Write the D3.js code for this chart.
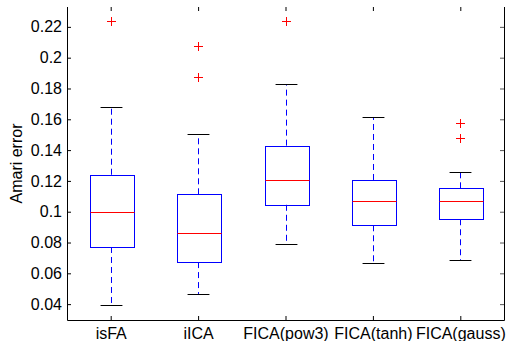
<!DOCTYPE html>
<html><head><meta charset="utf-8">
<script src="https://cdn.jsdelivr.net/npm/d3@7"></script>
<style>body{margin:0;background:#fff;} svg{display:block;font-family:"Liberation Sans",Arial,sans-serif;}</style>
</head><body>
<script>
const categories = ["isFA", "iICA", "FICA(pow3)", "FICA(tanh)", "FICA(gauss)"];
const lowerWhisker = [0.0392, 0.0466, 0.0790, 0.0669, 0.0686];
const q1 = [0.0771, 0.0673, 0.1045, 0.0912, 0.0951];
const median = [0.0998, 0.0860, 0.1206, 0.1068, 0.1068];
const q3 = [0.1240, 0.1113, 0.1429, 0.1206, 0.1152];
const upperWhisker = [0.1678, 0.1503, 0.1827, 0.1615, 0.1256];
const outliers = [[0.2236], [0.2074, 0.1873], [0.2236], [], [0.1574, 0.1477]];
const yTicks = [0.04, 0.06, 0.08, 0.1, 0.12, 0.14, 0.16, 0.18, 0.2, 0.22];
const yLabel = "Amari error";

const W = 508, H = 341;
const m = {left: 67, right: 504, top: 7, bottom: 320};
const FS = 16;
const svg = d3.select("body").append("svg").attr("width", W).attr("height", H);

const x = d3.scaleLinear().domain([0.5, categories.length + 0.5]).range([m.left, m.right]);
const y = d3.scaleLinear().domain([0.0297, 0.2329]).range([m.bottom, m.top]);
const step = x(2) - x(1);
const boxW = step * 0.5, capW = step * 0.25;

// axes
const axisCol = "#000";
const yAxis = d3.axisLeft(y).tickValues(yTicks).tickSize(-4).tickPadding(5).tickFormat(d => String(+d.toFixed(2)));
const gy = svg.append("g").attr("transform", `translate(${m.left},0)`).call(yAxis);
const yAxisR = d3.axisRight(y).tickValues(yTicks).tickSize(-4).tickFormat("");
const gyr = svg.append("g").attr("transform", `translate(${m.right},0)`).call(yAxisR);
const xAxis = d3.axisBottom(x).tickValues(categories.map((c, i) => i + 1)).tickSize(-4).tickPadding(8).tickFormat((d, i) => categories[i]);
const gx = svg.append("g").attr("transform", `translate(0,${m.bottom})`).call(xAxis);
const xAxisT = d3.axisTop(x).tickValues(categories.map((c, i) => i + 1)).tickSize(-4).tickFormat("");
const gxt = svg.append("g").attr("transform", `translate(0,${m.top})`).call(xAxisT);
[gy, gyr, gx, gxt].forEach(g => {
  g.selectAll("text").attr("font-size", FS).attr("fill", "#000").attr("font-family", "Liberation Sans, Arial, sans-serif");
  g.selectAll("line").attr("stroke", axisCol);
  g.select(".domain").remove();
});
svg.append("path").attr("d", `M${m.left + 0.5},${m.top}V${m.bottom + 0.5}H${m.right + 0.5}V${m.top}`)
  .attr("fill", "none").attr("stroke", "#000").attr("stroke-width", 1);
gyr.selectAll("line").attr("stroke", "#555");

svg.append("text").attr("transform", `translate(21.5,163.5) rotate(-90)`)
  .attr("text-anchor", "middle").attr("font-size", FS).text(yLabel);

// boxes
const g = svg.append("g");
categories.forEach((c, i) => {
  const cx = Math.round(x(i + 1)) + 0.5;
  // whiskers dashed
  g.append("line").attr("x1", cx).attr("x2", cx).attr("y1", y(q3[i])).attr("y2", y(upperWhisker[i]))
    .attr("stroke", "#0000ff").attr("stroke-dasharray", "6,4");
  g.append("line").attr("x1", cx).attr("x2", cx).attr("y1", y(q1[i])).attr("y2", y(lowerWhisker[i]))
    .attr("stroke", "#0000ff").attr("stroke-dasharray", "6,4");
  // caps
  [upperWhisker[i], lowerWhisker[i]].forEach(v => {
    g.append("line").attr("x1", cx - capW / 2).attr("x2", cx + capW / 2).attr("y1", Math.round(y(v)) + 0.5).attr("y2", Math.round(y(v)) + 0.5)
      .attr("stroke", "#000");
  });
  // box
  const bx = Math.round(cx - boxW / 2) + 0.5, bw = Math.round(boxW);
  g.append("rect").attr("x", bx).attr("width", bw)
    .attr("y", Math.round(y(q3[i])) + 0.5).attr("height", Math.round(y(q1[i])) - Math.round(y(q3[i])))
    .attr("fill", "none").attr("stroke", "#0000ff");
  g.append("line").attr("x1", bx).attr("x2", bx + bw)
    .attr("y1", Math.round(y(median[i])) + 0.5).attr("y2", Math.round(y(median[i])) + 0.5).attr("stroke", "#ff0000");
  // outliers
  outliers[i].forEach(v => {
    const py = Math.round(y(v)) + 0.5;
    g.append("path").attr("d", `M${cx - 4.5},${py}H${cx + 4.5}M${cx},${py - 4.5}V${py + 4.5}`)
      .attr("stroke", "#ff0000").attr("fill", "none");
  });
});
</script>
</body></html>
